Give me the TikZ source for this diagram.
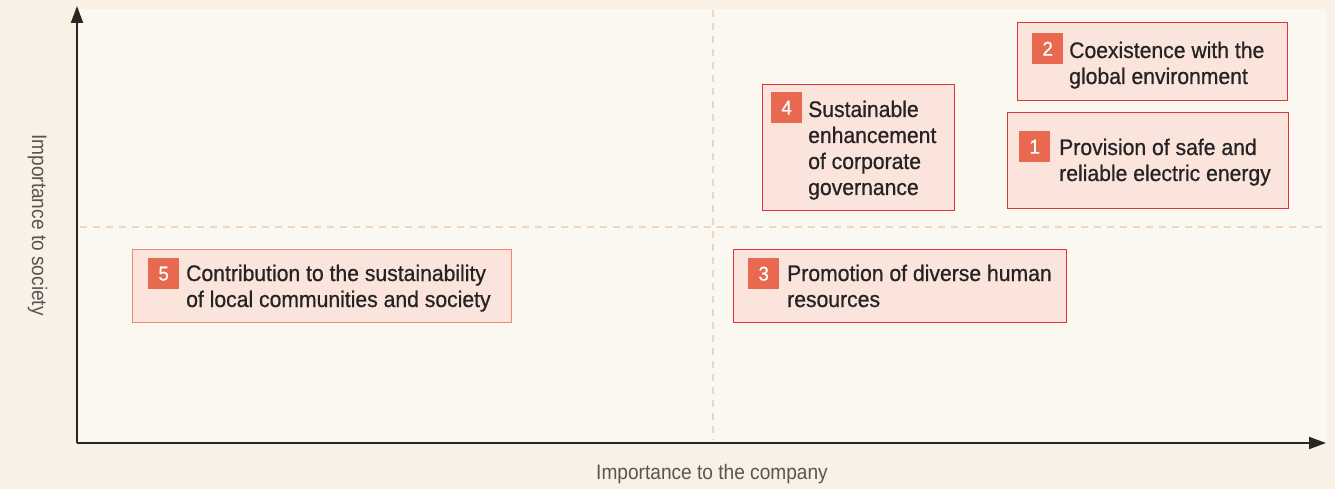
\documentclass[tikz,border=0pt]{standalone}
\usepackage{fontspec}
\setmainfont{Liberation Sans}
\newfontfamily\itemfont[FakeStretch=0.94,FakeBold=0.7]{Liberation Sans}
\newfontfamily\labelfont[FakeStretch=0.91]{Liberation Sans}
\usetikzlibrary{arrows.meta}
\definecolor{outerbg}{HTML}{F9F0E6}
\definecolor{innerbg}{HTML}{FBF7F1}
\definecolor{boxfill}{HTML}{FAE4DC}
\definecolor{boxred}{HTML}{E3333A}
\definecolor{boxorange}{HTML}{EC8A70}
\definecolor{badgec}{HTML}{E8694F}
\definecolor{dashc}{HTML}{EFD5B9}
\definecolor{axisc}{HTML}{2B2622}
\definecolor{txtc}{HTML}{262324}
\definecolor{labelc}{HTML}{5A5552}
\newcommand\mylines[1]{\begin{tabular}[t]{@{}l@{}}#1\end{tabular}}
\begin{document}
\begin{tikzpicture}[x=1pt,y=-1pt,
  itembox/.style={draw=boxred, line width=1.3pt, fill=boxfill, inner sep=0pt, anchor=north west},
  badgebox/.style={fill=badgec, text=white, minimum size=31pt, inner sep=0pt, anchor=north west, font=\itemfont\fontsize{20}{20}\selectfont},
  itemtext/.style={anchor=base west, inner sep=0pt, text=txtc, font=\itemfont\fontsize{22.5}{26}\selectfont},
  guide/.style={draw=dashc, line width=2.5pt, dash pattern=on 7pt off 6pt},
  axisline/.style={draw=axisc, line width=2pt, -{Triangle[length=17pt,width=12pt]}},
  axislabel/.style={text=labelc, font=\labelfont\fontsize{21}{21}\selectfont, inner sep=0pt, anchor=base}]
% backgrounds
\fill[outerbg] (0,0) rectangle (1335,489);
\fill[innerbg] (77,9) rectangle (1327,443);
\useasboundingbox (0,0) rectangle (1335,489);
% guides
\coordinate (vtop) at (713,10);
\coordinate (vbot) at (713,440);
\coordinate (hl) at (80,227);
\coordinate (hr) at (1322,227);
\draw[guide] (vtop) -- (vbot);
\draw[guide] (hl) -- (hr);
% axes
\coordinate (origin) at (77,443);
\coordinate (ytip) at (77,6);
\coordinate (xtip) at (1326,443);
\draw[axisline] (origin) -- (ytip);
\draw[axisline] (origin) -- (xtip);
% boxes
\node[itembox, minimum width=270pt, minimum height=78pt] (b2) at (1017,22) {};
\node[itembox, minimum width=281pt, minimum height=96pt] (b1) at (1007,112) {};
\node[itembox, minimum width=192pt, minimum height=126pt] (b4) at (762,84) {};
\node[itembox, draw=boxorange, minimum width=379pt, minimum height=73pt] (b5) at (132,249) {};
\node[itembox, minimum width=333pt, minimum height=73pt] (b3) at (733,249) {};
% badges
\node[badgebox] (n2) at (1032,33) {2};
\node[badgebox] (n1) at (1019,131) {1};
\node[badgebox] (n4) at (771,92) {4};
\node[badgebox] (n5) at (148,258) {5};
\node[badgebox] (n3) at (748,258) {3};
% texts
\node[itemtext] (t2) at (1069,58) {\mylines{Coexistence with the\\global environment}};
\node[itemtext] (t1) at (1059,155) {\mylines{Provision of safe and\\reliable electric energy}};
\node[itemtext] (t4) at (808,117) {\mylines{Sustainable\\enhancement\\of corporate\\governance}};
\node[itemtext] (t5) at (186,281) {\mylines{Contribution to the sustainability\\of local communities and society}};
\node[itemtext] (t3) at (787,281) {\mylines{Promotion of diverse human\\resources}};
% axis labels
\node[axislabel] (xlab) at (712,479) {Importance to the company};
\node[axislabel, rotate=-90] (ylab) at (32,225) {Importance to society};
\end{tikzpicture}
\end{document}
